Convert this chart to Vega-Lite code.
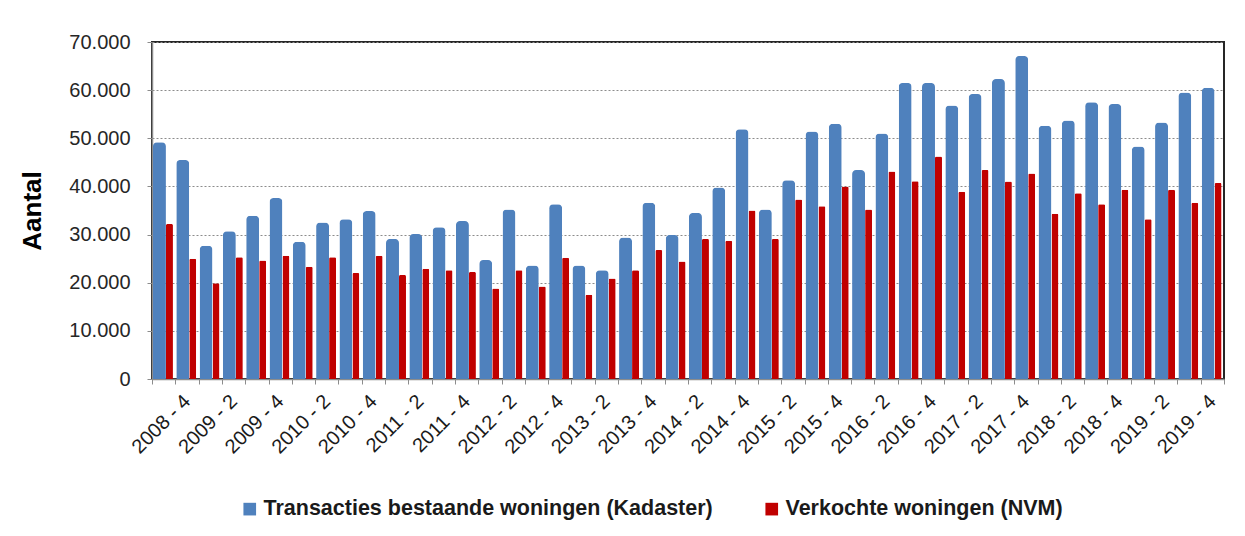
{
  "$schema": "https://vega.github.io/schema/vega-lite/v6.json",
  "autosize": {"type": "none"},
  "width": 1072,
  "height": 337,
  "padding": {"left": 152, "top": 42, "right": 21, "bottom": 157},
  "background": "#ffffff",
  "config": {
    "font": "Liberation Sans",
    "view": {"stroke": "#262626", "strokeWidth": 2},
    "axis": {"labelFont": "Liberation Sans", "titleFont": "Liberation Sans"},
    "legend": {"labelFont": "Liberation Sans"}
  },
  "data": {
    "values": [
      {"quarter": "2008 - 3", "kad": 49200, "nvm": 32200},
      {"quarter": "2008 - 4", "kad": 45500, "nvm": 25000},
      {"quarter": "2009 - 1", "kad": 27700, "nvm": 19900},
      {"quarter": "2009 - 2", "kad": 30700, "nvm": 25300},
      {"quarter": "2009 - 3", "kad": 33900, "nvm": 24600},
      {"quarter": "2009 - 4", "kad": 37600, "nvm": 25600},
      {"quarter": "2010 - 1", "kad": 28500, "nvm": 23300},
      {"quarter": "2010 - 2", "kad": 32500, "nvm": 25300},
      {"quarter": "2010 - 3", "kad": 33200, "nvm": 22000},
      {"quarter": "2010 - 4", "kad": 34900, "nvm": 25600},
      {"quarter": "2011 - 1", "kad": 29100, "nvm": 21600},
      {"quarter": "2011 - 2", "kad": 30100, "nvm": 22900},
      {"quarter": "2011 - 3", "kad": 31500, "nvm": 22600},
      {"quarter": "2011 - 4", "kad": 32800, "nvm": 22200},
      {"quarter": "2012 - 1", "kad": 24700, "nvm": 18800},
      {"quarter": "2012 - 2", "kad": 35200, "nvm": 22600},
      {"quarter": "2012 - 3", "kad": 23600, "nvm": 19200},
      {"quarter": "2012 - 4", "kad": 36300, "nvm": 25200},
      {"quarter": "2013 - 1", "kad": 23600, "nvm": 17500},
      {"quarter": "2013 - 2", "kad": 22600, "nvm": 20900},
      {"quarter": "2013 - 3", "kad": 29400, "nvm": 22600},
      {"quarter": "2013 - 4", "kad": 36600, "nvm": 26800},
      {"quarter": "2014 - 1", "kad": 29900, "nvm": 24400},
      {"quarter": "2014 - 2", "kad": 34500, "nvm": 29100},
      {"quarter": "2014 - 3", "kad": 39800, "nvm": 28700},
      {"quarter": "2014 - 4", "kad": 51900, "nvm": 35000},
      {"quarter": "2015 - 1", "kad": 35200, "nvm": 29100},
      {"quarter": "2015 - 2", "kad": 41300, "nvm": 37300},
      {"quarter": "2015 - 3", "kad": 51400, "nvm": 35900},
      {"quarter": "2015 - 4", "kad": 53000, "nvm": 40000},
      {"quarter": "2016 - 1", "kad": 43400, "nvm": 35200},
      {"quarter": "2016 - 2", "kad": 51000, "nvm": 43100},
      {"quarter": "2016 - 3", "kad": 61500, "nvm": 41100},
      {"quarter": "2016 - 4", "kad": 61500, "nvm": 46200},
      {"quarter": "2017 - 1", "kad": 56800, "nvm": 38900},
      {"quarter": "2017 - 2", "kad": 59200, "nvm": 43400},
      {"quarter": "2017 - 3", "kad": 62300, "nvm": 41000},
      {"quarter": "2017 - 4", "kad": 67100, "nvm": 42700},
      {"quarter": "2018 - 1", "kad": 52600, "nvm": 34300},
      {"quarter": "2018 - 2", "kad": 53700, "nvm": 38600},
      {"quarter": "2018 - 3", "kad": 57500, "nvm": 36300},
      {"quarter": "2018 - 4", "kad": 57100, "nvm": 39300},
      {"quarter": "2019 - 1", "kad": 48300, "nvm": 33200},
      {"quarter": "2019 - 2", "kad": 53300, "nvm": 39300},
      {"quarter": "2019 - 3", "kad": 59500, "nvm": 36600},
      {"quarter": "2019 - 4", "kad": 60500, "nvm": 40700}
    ]
  },
  "transform": [
    {"fold": ["kad", "nvm"], "as": ["key", "value"]},
    {"lookup": "key", "from": {"data": {"values": [
      {"key": "kad", "series": "Transacties bestaande woningen (Kadaster)"},
      {"key": "nvm", "series": "Verkochte woningen (NVM)"}
    ]}, "key": "key", "fields": ["series"]}}
  ],
  "encoding": {
    "x": {
      "field": "quarter", "type": "ordinal", "sort": null,
      "scale": {"paddingInner": 0, "paddingOuter": 0},
      "axis": {
        "title": null,
        "labelAngle": -45,
        "labelAlign": "right",
        "labelBaseline": "middle",
        "labelFontSize": 20,
        "labelColor": "#1a1a1a",
        "labelPadding": 14,
        "labelOverlap": false,
        "labelExpr": "(slice(datum.label, -1) == '2' || slice(datum.label, -1) == '4') ? datum.label : ''",
        "tickBand": "extent",
        "tickSize": 5,
        "tickColor": "#8c8c8c",
        "domainColor": "#8c8c8c",
        "domainWidth": 1.5,
        "grid": false
      }
    },
    "y": {
      "field": "value", "type": "quantitative",
      "scale": {"domain": [0, 70000], "nice": false},
      "axis": {
        "title": "Aantal",
        "titleFontSize": 26,
        "titleFontWeight": "bold",
        "titleColor": "#000000",
        "titleX": -120,
        "titleY": 168.5,
        "titleAngle": -90,
        "titleAlign": "center",
        "titleBaseline": "middle",
        "values": [0, 10000, 20000, 30000, 40000, 50000, 60000, 70000],
        "labelExpr": "replace(format(datum.value, ','), ',', '.')",
        "labelFontSize": 20,
        "labelColor": "#262626",
        "labelPadding": 17,
        "tickSize": 5,
        "tickColor": "#8c8c8c",
        "domainColor": "#8c8c8c",
        "domainWidth": 1.5,
        "grid": true,
        "gridColor": "#8c8c8c",
        "gridDash": [2, 2],
        "gridWidth": 1
      }
    },
    "color": {
      "field": "series", "type": "nominal",
      "scale": {
        "domain": ["Transacties bestaande woningen (Kadaster)", "Verkochte woningen (NVM)"],
        "range": ["#4f81bd", "#c00000"]
      },
      "legend": {
        "title": null,
        "orient": "none",
        "direction": "horizontal",
        "legendX": 87,
        "legendY": 456,
        "padding": 0,
        "symbolType": "square",
        "symbolSize": 160,
        "symbolStrokeWidth": 0,
        "labelFontSize": 21.5,
        "labelFontWeight": "bold",
        "labelColor": "#1a1a1a",
        "labelOffset": 3,
        "columnPadding": 48,
        "labelLimit": 0
      }
    }
  },
  "layer": [
    {
      "transform": [{"filter": "datum.key == 'kad'"}],
      "mark": {"type": "bar", "width": {"band": 0.557}, "xOffset": -4.2, "cornerRadiusTopLeft": 4, "cornerRadiusTopRight": 4}
    },
    {
      "transform": [{"filter": "datum.key == 'nvm'"}],
      "mark": {"type": "bar", "width": {"band": 0.3}, "xOffset": 5.8, "cornerRadiusTopLeft": 1.5, "cornerRadiusTopRight": 1.5}
    }
  ]
}
